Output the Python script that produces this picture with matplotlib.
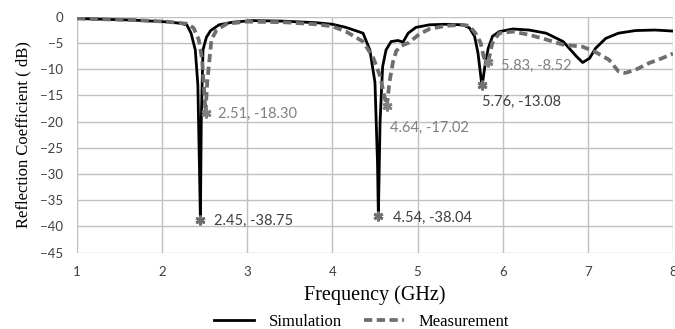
import matplotlib.pyplot as plt
import numpy as np

# Simulation curve (GHz, dB)
sim_f = [1.0, 1.66, 2.06, 2.21, 2.29, 2.34, 2.39, 2.42, 2.44, 2.45, 2.46, 2.48, 2.52, 2.57,
         2.67, 2.83, 3.06, 3.42, 3.81, 4.0, 4.16, 4.36, 4.44, 4.50, 4.53, 4.54, 4.56, 4.59,
         4.63, 4.69, 4.77, 4.83, 4.89, 4.98, 5.14, 5.33, 5.53, 5.61, 5.67, 5.71, 5.75, 5.76,
         5.79, 5.83, 5.88, 5.96, 6.12, 6.31, 6.51, 6.71, 6.87, 6.94, 7.02, 7.09, 7.21, 7.36,
         7.56, 7.79, 8.0]
sim_db = [-0.3, -0.6, -0.95, -1.2, -1.5, -3.1, -6.3, -13, -30, -38.75, -20, -6.3, -3.9, -2.6,
          -1.5, -1.0, -0.7, -0.8, -1.1, -1.4, -2.0, -3.1, -6.3, -12.5, -28, -38.04, -20, -9.5,
          -6.3, -4.7, -4.5, -4.8, -3.1, -2.0, -1.5, -1.4, -1.5, -2.1, -3.7, -6.9, -12.3, -13.08,
          -9.5, -6.0, -3.7, -2.8, -2.3, -2.5, -3.1, -4.7, -7.6, -8.7, -7.9, -6.0, -4.1, -3.1,
          -2.6, -2.5, -2.7]

# Measurement curve (GHz, dB)
meas_f = [1.0, 1.66, 2.06, 2.29, 2.37, 2.43, 2.47, 2.49, 2.51, 2.53, 2.56, 2.58, 2.64, 2.76,
          2.99, 3.42, 3.81, 4.0, 4.16, 4.36, 4.48, 4.56, 4.62, 4.64, 4.67, 4.71, 4.75, 4.81,
          4.90, 5.02, 5.14, 5.33, 5.53, 5.61, 5.68, 5.74, 5.78, 5.83, 5.88, 5.96, 6.12, 6.31,
          6.51, 6.71, 6.94, 7.09, 7.25, 7.36, 7.44, 7.56, 7.72, 7.87, 8.0]
meas_db = [-0.3, -0.6, -0.9, -1.3, -2.1, -4.3, -8.1, -13.2, -18.3, -12.5, -7.5, -4.3, -2.5, -1.3,
           -0.9, -1.0, -1.4, -1.8, -2.8, -4.7, -7.8, -11.3, -15.8, -17.02, -12.5, -8.7, -6.5, -5.5,
           -4.9, -3.3, -2.3, -1.7, -1.5, -1.7, -3.1, -4.9, -7.8, -8.52, -4.9, -3.1, -2.8, -3.4,
           -4.3, -5.3, -5.7, -6.7, -8.2, -10.4, -10.7, -10.1, -8.8, -7.9, -7.0]

# marked resonances
sim_pk_f = [2.45, 4.54, 5.76]
sim_pk_db = [-38.75, -38.04, -13.08]
meas_pk_f = [2.51, 4.64, 5.83]
meas_pk_db = [-18.30, -17.02, -8.52]

fig = plt.figure(figsize=(6.75, 3.29), dpi=100)
ax = fig.add_axes([0.114, 0.2325, 0.883, 0.716])

ax.plot(sim_f, sim_db, color="black", lw=2.0, label="Simulation", zorder=3)
ax.plot(meas_f, meas_db, color="#6e6e6e", lw=2.7, ls=(0, (2.2, 1.2)), label="Measurement", zorder=3)

ax.plot(sim_pk_f, sim_pk_db, ls="none", marker=(6, 2, 0), ms=7, mew=2, color="#707070", zorder=4)
ax.plot(meas_pk_f, meas_pk_db, ls="none", marker=(6, 2, 0), ms=7, mew=2, color="#808080", zorder=4)

sim_off = [(14, -1), (15, -2), (0, -16)]
meas_off = [(12, -1), (3, -22), (13, -4)]
for f, d, off in zip(sim_pk_f, sim_pk_db, sim_off):
    ax.annotate(f"{f:.2f}, {d:.2f}", (f, d), xytext=off, textcoords="offset pixels",
                ha="left", va="center", fontsize=10.5, family="Lato", color="#404040")
for f, d, off in zip(meas_pk_f, meas_pk_db, meas_off):
    ax.annotate(f"{f:.2f}, {d:.2f}", (f, d), xytext=off, textcoords="offset pixels",
                ha="left", va="center", fontsize=10.5, family="Lato", color="#808080")

ax.set_xlim(1, 8)
ax.set_ylim(-45, 0)
ax.set_xticks(np.arange(1, 9))
ax.set_yticks(np.arange(-45, 1, 5))
ax.grid(True, color="#c0c0c0", lw=1)
ax.set_axisbelow(True)
for s in ax.spines.values():
    s.set_visible(False)
ax.tick_params(length=0, labelsize=9.5, labelcolor="#404040", pad=10)
for lab in ax.get_xticklabels() + ax.get_yticklabels():
    lab.set_family("Lato")

ax.set_xlabel("Frequency (GHz)", family="Liberation Serif", fontsize=14.5, labelpad=5)
ax.set_ylabel("Reflection Coefficient ( dB)", family="Liberation Serif", fontsize=12, labelpad=6)

fig.legend(loc="center", bbox_to_anchor=(0.536, 0.022), ncol=2, frameon=False,
           prop={"family": "Liberation Serif", "size": 12}, handlelength=2.4,
           columnspacing=1.3, handletextpad=0.9)

fig.savefig("out.png", dpi=100)
